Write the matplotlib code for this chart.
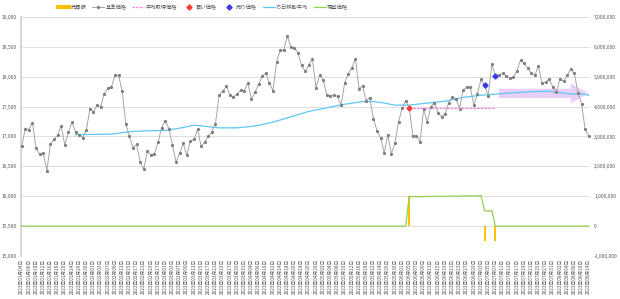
import matplotlib
matplotlib.use("Agg")
import matplotlib.pyplot as plt
from matplotlib.lines import Line2D
from matplotlib.patches import FancyArrow
from matplotlib.ticker import FuncFormatter, MultipleLocator
import pandas as pd

plt.rcParams['font.family'] = ['Noto Sans CJK JP', 'DejaVu Sans']

# ---------------- data ----------------
dates = pd.bdate_range("2023-01-04", periods=159)
date_labels = [f"{d.year}年{d.month:02d}月{d.day:02d}日" for d in dates]

base_price = [
    16844, 17133, 17117, 17233, 16800, 16706, 16728, 16428, 16872, 16950,
    17022, 17178, 16856, 17067, 17239, 17078, 17022, 16983, 17106, 17467,
    17411, 17522, 17500, 17717, 17811, 17833, 18022, 18028, 17756, 17217,
    17000, 16811, 16867, 16578, 16456, 16750, 16694, 16711, 16906, 17150,
    17267, 17133, 16861, 16572, 16717, 16883, 16689, 16922, 16950, 17122,
    16833, 16911, 17000, 17083, 17217, 17689, 17756, 17839, 17700, 17661,
    17711, 17772, 17767, 17900, 17628, 17739, 17872, 18011, 18056, 17900,
    17767, 18244, 18444, 18444, 18683, 18494, 18483, 18400, 18189, 18089,
    18194, 18300, 17817, 18028, 17950, 17700, 17680, 17690, 17670, 17520,
    17900, 18050, 18150, 18300, 17800, 17850, 17600, 17650, 17300, 17100,
    16978, 16728, 17022, 16711, 16889, 17244, 17472, 17600, 17472, 17011,
    17011, 16911, 17456, 17244, 17494, 17567, 17400, 17328, 17383, 17567,
    17667, 17633, 17467, 17772, 17828, 17822, 17522, 17717, 17956, 17861,
    17678, 18206, 18017, 18033, 18056, 18011, 17978, 18000, 18094, 18278,
    18222, 18144, 18056, 18028, 18178, 17889, 17911, 17956, 17833, 17744,
    17967, 17922, 18022, 18133, 18056, 17733, 17550, 17122, 17000,
]

# 75-day moving average (read at sample dates)
ma_idx = [15, 20, 25, 30, 35, 40, 45, 48, 52, 55, 60, 65, 70, 75, 80, 85, 90,
          95, 98, 101, 104, 108, 113, 118, 123, 128, 133, 138, 143, 147, 150,
          153, 156, 158]
ma_vals = [17030, 17035, 17040, 17080, 17095, 17100, 17150, 17190, 17165, 17145,
           17145, 17175, 17240, 17330, 17420, 17480, 17540, 17585, 17585, 17560,
           17525, 17525, 17560, 17590, 17655, 17690, 17715, 17735, 17752, 17756,
           17733, 17711, 17710, 17690]

# trades
buy_idx = [108]
sell_idx = [129, 132]
trade_idx = [108, 129, 132]
trade_amount = [1000000, -510000, -510000]

# average acquisition price
avg_cost = 17475
avg_cost_range = [108, 132]

# valuation (right axis)
val_idx_start = 108
valuation = [1000000, 985000, 985000, 980000, 995000, 990000, 995000, 1000000,
             995000, 995000, 998000, 1000000, 1005000, 1005000, 1000000, 1010000,
             1012000, 1012000, 1005000, 1012000, 1025000, 510000, 505000, 515000]

# trend arrow
arrow_from, arrow_to, arrow_level = 133, 158, 17722

# ---------------- figure ----------------
W, H = 620, 299
fig = plt.figure(figsize=(W / 100, H / 100), dpi=100)
ax = fig.add_axes([21 / W, 1 - 256 / H, (590 - 21) / W, (256 - 17) / H])
ax2 = ax.twinx()

n = len(base_price)
x = list(range(n))

tick_color = '#595959'
grid_color = '#D9D9D9'

# left axis
ax.set_ylim(15000, 19000)
ax.yaxis.set_major_locator(MultipleLocator(500))
ax.yaxis.set_major_formatter(FuncFormatter(lambda v, p: f"{int(v):,}"))
ax.grid(axis='y', color=grid_color, linewidth=0.6)
ax.set_axisbelow(True)
ax.set_xlim(-0.2, n - 1 + 0.36)

# right axis
ax2.set_ylim(-1000000, 7000000)
ax2.yaxis.set_major_locator(MultipleLocator(1000000))
ax2.yaxis.set_major_formatter(FuncFormatter(lambda v, p: f"{int(v):,}"))

for a in (ax, ax2):
    for s in ('top', 'right', 'bottom'):
        a.spines[s].set_visible(False)
    a.tick_params(axis='both', length=0, labelsize=3.6, colors=tick_color, pad=3)
ax.spines['left'].set_color('#D0D0D0')
ax.spines['left'].set_linewidth(1.2)
ax2.spines['left'].set_visible(False)

ax.set_xticks(x[::2])
ax.set_xticklabels(date_labels[::2], rotation=90, fontsize=3.4, color=tick_color)
ax.tick_params(axis='x', pad=2)

# trend arrow
arr = FancyArrow(arrow_from, arrow_level, arrow_to - arrow_from, 0, width=155,
                 head_width=333, head_length=5, length_includes_head=True,
                 color='#D4A8F0', alpha=0.55, linewidth=0, zorder=1)
ax.add_patch(arr)

# MA line
ax.plot(ma_idx, ma_vals, color='#5BC8F5', linewidth=0.9, zorder=2)

# base price
ax.plot(x, base_price, color='#A6A6A6', linewidth=0.7, marker='o', markersize=1.3,
        markerfacecolor='#7F7F7F', markeredgecolor='#7F7F7F', zorder=3)

# average cost
ax.plot(avg_cost_range, [avg_cost, avg_cost], color='#FF7FE0', linewidth=0.9,
        linestyle=(0, (2, 1)), zorder=3)

# buy / sell markers
ax.plot(buy_idx, [base_price[i] for i in buy_idx], linestyle='none', marker='D',
        markersize=2.6, color='#FF3B3B', zorder=4)
ax.plot(sell_idx, [base_price[i] for i in sell_idx], linestyle='none', marker='D',
        markersize=2.6, color='#3A3AF0', zorder=4)

# right-axis: trades & valuation
ax2.bar(trade_idx, trade_amount, width=0.6, color='#FFC000', zorder=2)
val_series = [0] * n
for k, v in enumerate(valuation):
    val_series[val_idx_start + k] = v
ax2.plot(x, val_series, color='#92D050', linewidth=0.9, zorder=3)

# legend
handles = [
    Line2D([], [], color='#FFC000', linewidth=3),
    Line2D([], [], color='#A6A6A6', linewidth=0.7, marker='o', markersize=1.3,
           markerfacecolor='#7F7F7F', markeredgecolor='#7F7F7F'),
    Line2D([], [], color='#FF7FE0', linewidth=0.9, linestyle=(0, (2, 1))),
    Line2D([], [], linestyle='none', marker='D', markersize=2.6, color='#FF3B3B'),
    Line2D([], [], linestyle='none', marker='D', markersize=2.6, color='#3A3AF0'),
    Line2D([], [], color='#5BC8F5', linewidth=0.9),
    Line2D([], [], color='#92D050', linewidth=0.9),
]
labels = ['売買額', '基準価格', '平均取得価格', '買い価格', '売り価格', '75日移動平均', '現基価格']
fig.legend(handles, labels, loc='center', bbox_to_anchor=(203 / W, 1 - 7 / H), ncol=7,
           frameon=False, fontsize=3.8, handlelength=2.2, columnspacing=1.1,
           handletextpad=0.3, labelcolor=tick_color)

fig.savefig('out.png', dpi=100)
